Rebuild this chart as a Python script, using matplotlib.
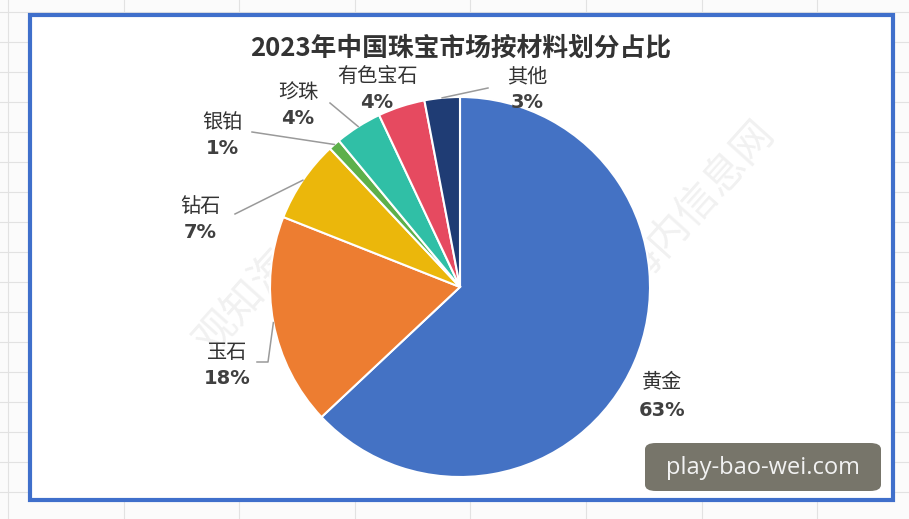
import numpy as np
import matplotlib
matplotlib.use("Agg")
import matplotlib.pyplot as plt
from matplotlib.patches import Rectangle, FancyBboxPatch
from matplotlib.lines import Line2D

plt.rcParams['font.family'] = ['Noto Sans CJK SC', 'DejaVu Sans']

# ---- data ----
title = "2023年中国珠宝市场按材料划分占比"
categories = ["黄金", "玉石", "钻石", "银铂", "珍珠", "有色宝石", "其他"]
values = [63, 18, 7, 1, 4, 4, 3]
colors = ["#4472C4", "#ED7D31", "#EBB70B", "#5DB04A", "#30BFA6", "#E64A60", "#1F3C74"]

W, H = 909, 519
fig = plt.figure(figsize=(W / 100, H / 100), dpi=100)
fig.patch.set_facecolor("#FBFBFB")

def fx(px):
    return px / W

def fy(py):
    return 1 - py / H

# spreadsheet-like background grid
for gx in np.arange(8, W, 115.6):
    fig.add_artist(Line2D([fx(gx), fx(gx)], [0, 1], color="#E2E2E2", lw=0.8, zorder=-3))
for gy in np.arange(12, H, 30):
    fig.add_artist(Line2D([0, 1], [fy(gy), fy(gy)], color="#E2E2E2", lw=0.8, zorder=-3))

# chart frame
fig.add_artist(Rectangle((fx(30), fy(500)), fx(893) - fx(30), fy(15) - fy(500),
                         transform=fig.transFigure, facecolor="white",
                         edgecolor="#3F6FCB", lw=3, zorder=-1))

# pie axes: centre (460,287) px, radius 190 px
cx, cy, R = 460, 287, 190
ax = fig.add_axes([0, 0, 1, 1])
ax.set_facecolor("none")
wedges, _ = ax.pie(values, colors=colors, startangle=90, counterclock=False, radius=1,
                   wedgeprops=dict(edgecolor="white", linewidth=1.5))
ax.set_aspect("auto")
ax.set_xlim(-cx / R, (W - cx) / R)
ax.set_ylim(-(H - cy) / R, cy / R)
ax.axis("off")

def d(px, py):
    return ((px - cx) / R, (cy - py) / R)

# faint watermark
for (wx, wy) in [(300, 240), (670, 235)]:
    ax.text(*d(wx, wy), "观知海内信息网", fontsize=30, rotation=48, color="#000000",
            alpha=0.06, ha="center", va="center", zorder=0.5)

# labels: (x, name y, percent y) in px
label_pos = {
    "黄金": (662, 382, 410),
    "玉石": (227, 352, 378),
    "钻石": (200, 207, 233),
    "银铂": (222, 122, 149),
    "珍珠": (298, 92, 119),
    "有色宝石": (377, 76, 102),
    "其他": (527, 77, 102),
}
for cat, v in zip(categories, values):
    lx, ly1, ly2 = label_pos[cat]
    ax.text(*d(lx, ly1), cat, fontsize=14.5, color="#333333", ha="center", va="center")
    ax.text(*d(lx, ly2), f"{v}%", fontsize=14, fontweight="bold", color="#404040",
            ha="center", va="center", family=["DejaVu Sans"])

# leader lines from slice mid-angles
theta = 90.0
mids = {}
for cat, v in zip(categories, values):
    span = v / sum(values) * 360
    mids[cat] = np.deg2rad(theta - span / 2)
    theta -= span

line_ends = {
    "其他": [(488, 88)],
    "珍珠": [(330, 103)],
    "银铂": [(252, 132)],
    "钻石": [(235, 214)],
    "玉石": [(257, 362), (268, 362)],
}
for cat, pts in line_ends.items():
    a = mids[cat]
    xs = [d(px, py)[0] for px, py in pts] + [np.cos(a)]
    ys = [d(px, py)[1] for px, py in pts] + [np.sin(a)]
    ax.plot(xs, ys, color="#9A9A9A", lw=1.1, zorder=3)

# title
fig.text(fx(461), fy(48), title, fontsize=18.5, fontweight="bold", color="#333333",
         ha="center", va="center")

# site badge
fig.add_artist(FancyBboxPatch((fx(645), fy(491)), fx(881) - fx(645), fy(443) - fy(491),
                              boxstyle="round,pad=0,rounding_size=0.012",
                              transform=fig.transFigure, facecolor="#77756A",
                              edgecolor="none", zorder=5))
fig.text(fx(763), fy(468), "play-bao-wei.com", fontsize=17, color="#F2F2F2",
         ha="center", va="center", zorder=6, family=["Open Sans", "DejaVu Sans"])

fig.savefig("out.png", dpi=100)
